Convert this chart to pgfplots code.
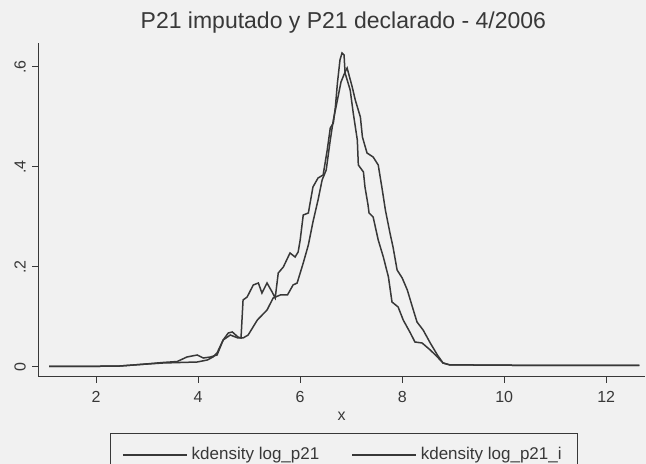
\documentclass[border=0pt]{standalone}
\usepackage{fontspec}
\setmainfont{Liberation Sans}
\usepackage{pgfplots}
\pgfplotsset{compat=1.18}
\usepackage{pgfplotstable}
\definecolor{bg}{HTML}{F1F1F1}
\definecolor{ink}{HTML}{383838}

% kdensity log_p21
\pgfplotstableread{
x y
1.08 0.001
1.70 0.001
2.47 0.002
2.86 0.005
3.31 0.009
3.59 0.011
3.78 0.020
3.98 0.024
4.10 0.018
4.24 0.020
4.37 0.024
4.49 0.054
4.59 0.068
4.67 0.070
4.78 0.060
4.84 0.058
4.88 0.134
4.96 0.140
5.08 0.164
5.18 0.168
5.25 0.148
5.35 0.168
5.45 0.150
5.51 0.138
5.57 0.188
5.67 0.200
5.80 0.228
5.90 0.220
5.96 0.230
6.00 0.254
6.06 0.304
6.16 0.308
6.25 0.360
6.35 0.378
6.45 0.384
6.53 0.434
6.59 0.478
6.65 0.488
6.69 0.520
6.73 0.568
6.78 0.614
6.82 0.628
6.86 0.624
6.88 0.588
6.98 0.554
7.04 0.508
7.12 0.454
7.14 0.404
7.24 0.390
7.27 0.360
7.33 0.324
7.35 0.308
7.43 0.300
7.53 0.254
7.63 0.220
7.73 0.180
7.80 0.130
7.92 0.120
8.02 0.094
8.16 0.068
8.25 0.050
8.39 0.048
8.55 0.034
8.69 0.020
8.80 0.008
8.94 0.004
9.39 0.004
10.90 0.003
12.65 0.003
}\dataA

% kdensity log_p21_i
\pgfplotstableread{
x y
1.08 0.001
1.70 0.001
2.47 0.002
2.86 0.005
3.31 0.008
3.65 0.009
3.98 0.010
4.18 0.014
4.29 0.020
4.37 0.028
4.49 0.054
4.63 0.064
4.78 0.058
4.88 0.058
4.98 0.064
5.16 0.094
5.35 0.114
5.47 0.138
5.61 0.144
5.75 0.144
5.86 0.164
5.94 0.168
6.06 0.208
6.16 0.244
6.25 0.290
6.35 0.334
6.43 0.374
6.51 0.394
6.59 0.454
6.65 0.494
6.73 0.534
6.80 0.570
6.88 0.590
6.92 0.598
7.02 0.560
7.08 0.534
7.18 0.500
7.22 0.460
7.31 0.428
7.43 0.420
7.53 0.404
7.61 0.354
7.67 0.314
7.76 0.268
7.82 0.240
7.90 0.194
8.00 0.178
8.10 0.154
8.20 0.120
8.29 0.090
8.41 0.074
8.55 0.048
8.69 0.024
8.80 0.008
8.94 0.004
9.39 0.004
10.90 0.003
12.65 0.003
}\dataB

\begin{document}
\begin{tikzpicture}
\path[use as bounding box, fill=bg] (-19pt,-43.5pt) rectangle (304pt,188.5pt);
\begin{axis}[
    at={(0,0)}, anchor=south west,
    scale only axis,
    width=303.5pt, height=167pt,
    xmin=0.86, xmax=12.76,
    ymin=-0.02, ymax=0.648,
    axis lines=left,
    axis line style={-, draw=ink, line width=0.5pt},
    tick style={draw=ink, line width=0.5pt},
    tick align=outside,
    major tick length=3pt,
    xtick={2,4,6,8,10,12},
    xticklabels={2,4,6,8,10,12},
    ytick={0,0.2,0.4,0.6},
    yticklabels={0,.2,.4,.6},
    ticklabel style={font=\fontsize{8}{9}\selectfont, text=ink},
    xticklabel style={anchor=center, yshift=-7pt},
    yticklabel style={anchor=center, xshift=-6pt, rotate=90},
    xlabel={x},
    xlabel style={font=\fontsize{8}{9}\selectfont, text=ink, anchor=center,
        at={(axis description cs:0.5,0)}, yshift=-19.5pt},
    title={P21 imputado y P21 declarado - 4/2006},
    title style={font=\fontsize{11.5}{13}\selectfont, text=ink, anchor=center,
        at={(axis description cs:0.503,1)}, yshift=4pt},
    legend columns=2,
    legend image code/.code={\draw[#1] (0pt,0pt) -- (32pt,0pt);},
    legend style={at={(axis description cs:0.504,0)}, anchor=north, yshift=-28pt,
        draw=ink, line width=0.5pt, fill=none,
        font=\fontsize{8.5}{10}\selectfont, text=ink,
        inner xsep=6pt, inner ysep=5pt,
        /tikz/every even column/.append style={column sep=14pt}},
]
\addplot[ink, line width=0.75pt] table[x=x, y=y] {\dataA};
\addplot[ink, line width=0.75pt] table[x=x, y=y] {\dataB};
\legend{kdensity log\_p21, kdensity log\_p21\_i}
\end{axis}
\end{tikzpicture}
\end{document}
